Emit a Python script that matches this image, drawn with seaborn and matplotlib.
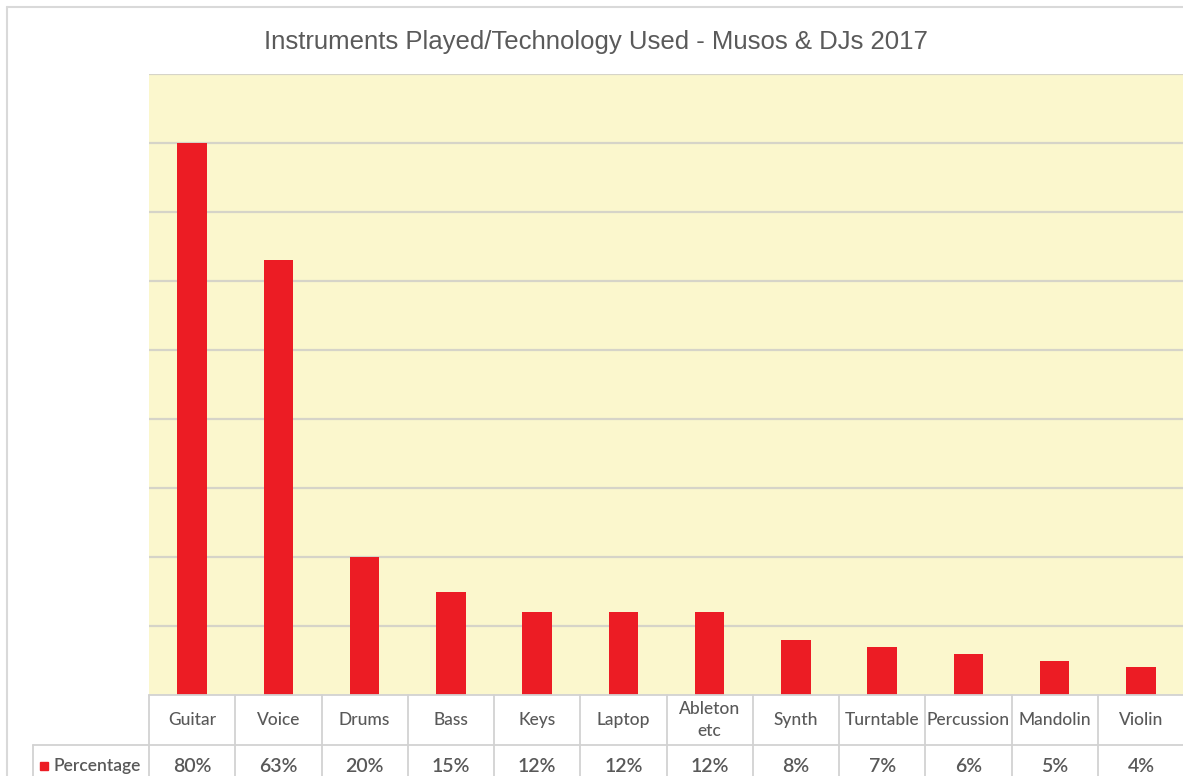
import matplotlib
matplotlib.use("Agg")
import matplotlib.pyplot as plt
import matplotlib.transforms as mtransforms
from matplotlib.patches import Rectangle
from matplotlib.lines import Line2D
import seaborn as sns
import pandas as pd

# Survey data: share of respondents by instrument / technology
categories = ["Guitar", "Voice", "Drums", "Bass", "Keys", "Laptop", "Ableton\netc",
              "Synth", "Turntable", "Percussion", "Mandolin", "Violin"]
percentages = [80, 63, 20, 15, 12, 12, 12, 8, 7, 6, 5, 4]
series_name = "Percentage"
title = "Instruments Played/Technology Used - Musos & DJs 2017"

df = pd.DataFrame({"category": categories, "value": percentages})

sns.set_theme(style="white")
plt.rcParams["font.family"] = ["Lato", "DejaVu Sans"]

W, H = 1183, 776
fig = plt.figure(figsize=(W / 100, H / 100), dpi=100)
fig.patch.set_facecolor("white")

# plot area in pixel terms
left, right, top, bottom = 149, 1184, 74, 695
ax = fig.add_axes([left / W, 1 - bottom / H, (right - left) / W, (bottom - top) / H])
ax.set_facecolor("#FBF7CD")

bar_red = "#EC1C24"
sns.barplot(data=df, x="category", y="value", color=bar_red, width=0.34,
            saturation=1, linewidth=0, ax=ax, zorder=3)

ax.set_ylim(0, 90)
ax.set_xlim(-0.5, len(categories) - 0.5)
ax.set_yticks(range(10, 91, 10))
ax.yaxis.grid(True, color="#D6D4C8", linewidth=1.6, zorder=0)
ax.set_axisbelow(True)
ax.set_yticklabels([])
ax.set_xticks([])
ax.set_xlabel("")
ax.set_ylabel("")
for s in ax.spines.values():
    s.set_visible(False)

# data table underneath the plot area
grid_col = "#D2D2D2"
text_col = "#595959"
row_h = 50 / (bottom - top)          # one table row in axes fraction
trans = mtransforms.blended_transform_factory(ax.transData, ax.transAxes)
n = len(categories)

# horizontal rules
ax.add_line(Line2D([-0.5, n - 0.5], [0, 0], transform=trans, color=grid_col,
                   lw=1.3, clip_on=False, zorder=4))
row_left = (33 - left) / (right - left)
ax.add_line(Line2D([row_left, 1.0], [-row_h, -row_h], transform=ax.transAxes,
                   color=grid_col, lw=1.3, clip_on=False))
# vertical rules
for i in range(n + 1):
    ax.add_line(Line2D([i - 0.5, i - 0.5], [0, -2.2 * row_h], transform=trans,
                       color=grid_col, lw=1.3, clip_on=False))
ax.add_line(Line2D([row_left, row_left], [-row_h, -2.2 * row_h],
                   transform=ax.transAxes, color=grid_col, lw=1.3, clip_on=False))

for i, (cat, val) in enumerate(zip(categories, percentages)):
    ax.text(i, -row_h / 2, cat, transform=trans, ha="center", va="center",
            fontsize=12.5, color=text_col, fontweight="medium", linespacing=1.45)
    ax.text(i, -row_h * 1.42, f"{val}%", transform=trans, ha="center",
            va="center", fontsize=14, color=text_col, fontweight="semibold")

# series key in the row header
key_x = (40 - left) / (right - left)
ax.add_patch(Rectangle((key_x, -row_h * 1.42 - 0.007), 0.0078, 0.0135,
                       transform=ax.transAxes, color=bar_red, clip_on=False))
ax.text((54 - left) / (right - left), -row_h * 1.42, series_name,
        transform=ax.transAxes, ha="left", va="center", fontsize=12.5,
        color=text_col, fontweight="semibold")

# chart title
fig.text(596 / W, 1 - 42 / H, title, ha="center", va="center", fontsize=18.5,
         color="#5A5A5A", family=["Liberation Sans", "DejaVu Sans"])

# outer chart border
fig.add_artist(Line2D([7 / W, 7 / W], [0, 1 - 7 / H], transform=fig.transFigure,
                      color="#D9D9D9", lw=1.5))
fig.add_artist(Line2D([7 / W, 1], [1 - 7 / H, 1 - 7 / H], transform=fig.transFigure,
                      color="#D9D9D9", lw=1.5))

fig.savefig("out.png", dpi=100, facecolor="white")
